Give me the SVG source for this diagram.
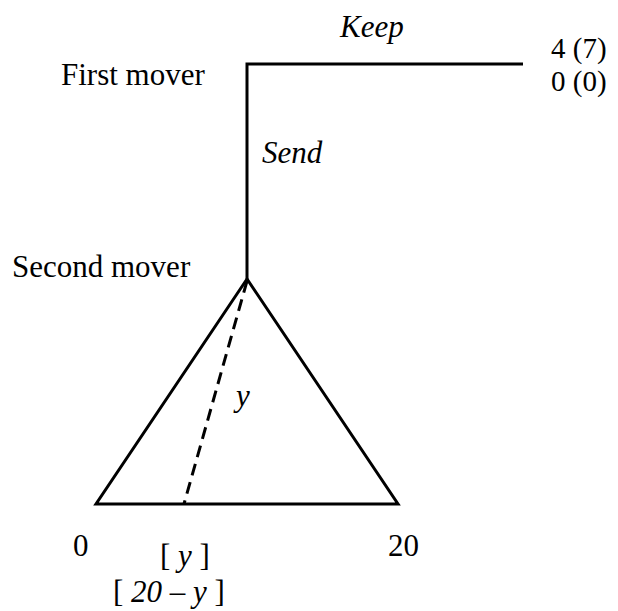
<svg xmlns="http://www.w3.org/2000/svg" width="618" height="611" viewBox="0 0 618 611">
<style>
text{font-family:"Liberation Serif","Times New Roman",serif;font-size:31px;fill:#000}
.i{font-style:italic}
.p{font-size:29px}
.ln{fill:none;stroke:#000;stroke-width:3;stroke-linejoin:miter}
.d{fill:none;stroke:#000;stroke-width:3;stroke-dasharray:12 7}
</style>
<rect width="618" height="611" fill="#fff"/>
<g id="connectors">
<polyline class="ln" points="523,64 247,64 247,279"/>
<polygon class="ln" points="247,279 96,504 398,504"/>
<line class="d" x1="247" y1="281" x2="184" y2="504"/>
</g>
<g id="first-mover"><text x="61" y="85">First mover</text></g>
<g id="keep"><text class="i" x="340" y="37">Keep</text></g>
<g id="payoff-keep"><text class="p" x="551" y="58">4 (7)</text><text class="p" x="551" y="91">0 (0)</text></g>
<g id="send"><text class="i" x="262" y="163">Send</text></g>
<g id="second-mover"><text x="12" y="277">Second mover</text></g>
<g id="y-label"><text class="i" x="236" y="406">y</text></g>
<g id="zero"><text x="73" y="556">0</text></g>
<g id="twenty"><text x="388" y="556">20</text></g>
<g id="payoff-send"><text x="160" y="566">[ <tspan class="i">y</tspan> ]</text><text x="113" y="602">[ <tspan class="i">20 – y</tspan> ]</text></g>
</svg>
